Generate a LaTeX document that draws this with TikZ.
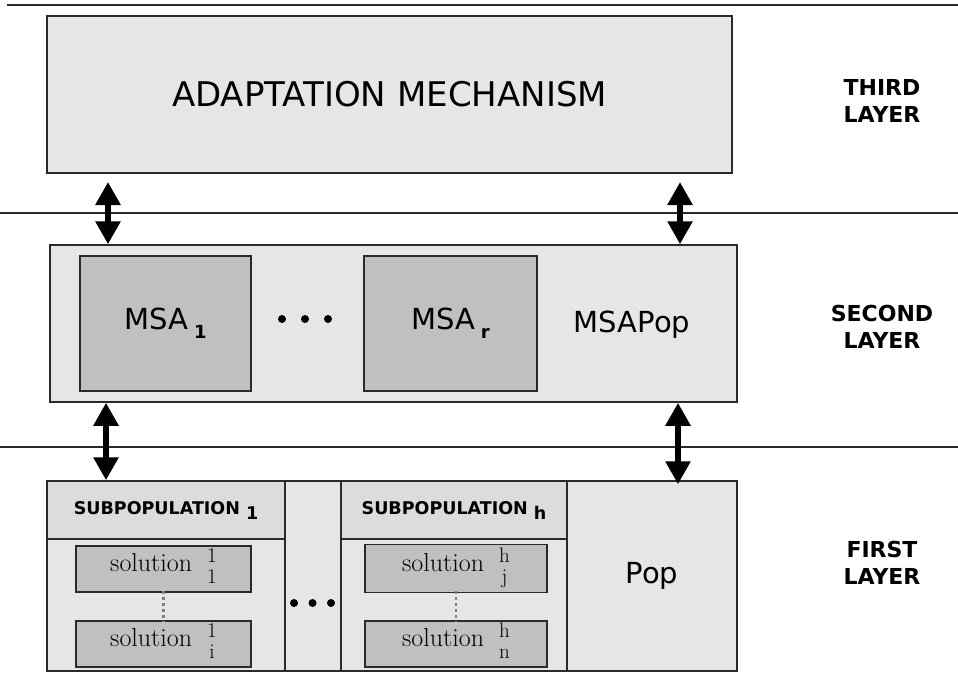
\documentclass[tikz,border=0pt]{standalone}
\usepackage{fontspec}
\newfontfamily\vsans{DejaVu Sans}
\usetikzlibrary{arrows.meta}

\definecolor{panel}{HTML}{E6E6E6}
\definecolor{inner}{HTML}{C0C0C0}
\definecolor{header}{HTML}{DCDCDC}
\definecolor{edge}{HTML}{2A2A2A}

\newcommand\fsz[1]{\fontsize{#1}{#1}\selectfont}
% stacked upper/lower index after "solution"
\newcommand\idx[2]{$\vcenter{\hbox{\fontsize{21}{21}\selectfont
  \begin{tabular}{@{}c@{}}#1\\#2\end{tabular}}}$}
\newcommand\sol[2]{{\fsz{26}solution}\hspace{15pt}\idx{#1}{#2}}
\newcommand\msa[1]{{\vsans\fsz{29}MSA\hspace{6pt}\raisebox{-9pt}{\bfseries\fsz{18}#1}}}
\newcommand\subpop[1]{{\vsans\bfseries\fsz{17.5}SUBPOPULATION\hspace{6pt}\raisebox{-5pt}{#1}}}

\tikzset{
  panelbox/.style={draw=edge, line width=1.5pt, fill=panel, inner sep=0pt},
  innerbox/.style={draw=edge, line width=1.5pt, fill=inner, inner sep=0pt},
  headbox/.style={draw=edge, line width=1.5pt, fill=header, inner sep=0pt},
  layerline/.style={draw=edge, line width=1.5pt},
  layertext/.style={font=\vsans\bfseries\fontsize{22}{27}\selectfont, align=center},
  biarrow/.style={line width=6pt, {Triangle[length=23pt,width=24pt]}-{Triangle[length=23pt,width=24pt]}},
  ellip/.style={circle, fill=black, inner sep=0pt, minimum size=8pt},
  solgap/.style={draw=gray, line width=2.5pt, dash pattern=on 3pt off 3pt},
}

\begin{document}
\begin{tikzpicture}[x=1pt, y=-1pt]
\useasboundingbox (0,0) rectangle (958,675);

% layer separators
\coordinate (l0a) at (7,5);   \coordinate (l0b) at (958,5);
\coordinate (l1a) at (0,213); \coordinate (l1b) at (958,213);
\coordinate (l2a) at (0,447); \coordinate (l2b) at (958,447);
\draw[layerline] (l0a) -- (l0b);
\draw[layerline] (l1a) -- (l1b);
\draw[layerline] (l2a) -- (l2b);

% third layer
\node[panelbox, minimum width=685pt, minimum height=157pt] (adapt) at (389.5,94.5)
  {\vsans\fsz{34}ADAPTATION MECHANISM};

% second layer
\node[panelbox, minimum width=687pt, minimum height=157pt] (second) at (393.5,323.5) {};
\node[innerbox, minimum width=171pt, minimum height=135pt] (msa1) at (165.5,323.5) {\msa{1}};
\node[innerbox, minimum width=173pt, minimum height=135pt] (msar) at (450.5,323.5) {\msa{r}};
\node (msapop) at (632,325) {\vsans\fsz{29}MSAPop};
\node[ellip] (md1) at (282,319) {};
\node[ellip] (md2) at (305,319) {};
\node[ellip] (md3) at (328,319) {};

% first layer
\node[panelbox, minimum width=690pt, minimum height=190pt] (first) at (392,576) {};
\node[panelbox, minimum width=238pt, minimum height=190pt] (col1) at (166,576) {};
\node[panelbox, minimum width=56pt, minimum height=190pt] (dcol) at (313,576) {};
\node[panelbox, minimum width=226pt, minimum height=190pt] (colh) at (454,576) {};
\node[panelbox, minimum width=170pt, minimum height=190pt] (pop) at (652,576) {\vsans\fsz{29}Pop};
\node[headbox, minimum width=238pt, minimum height=58pt] (head1) at (166,510) {\subpop{1}};
\node[headbox, minimum width=226pt, minimum height=58pt] (headh) at (454,510) {\subpop{h}};

\node[innerbox, minimum width=175pt, minimum height=46pt] (s11) at (163.5,569) {\sol{1}{1}};
\node[innerbox, minimum width=175pt, minimum height=46pt] (s1i) at (163.5,644) {\sol{1}{i}};
\node[innerbox, minimum width=182pt, minimum height=48pt] (shj) at (456,568.5) {\sol{h}{j}};
\node[innerbox, minimum width=182pt, minimum height=46pt] (shn) at (456,644) {\sol{h}{n}};
\draw[solgap] ([yshift=2pt]s11.south) -- ([yshift=-2pt]s1i.north);
\draw[solgap] ([yshift=2pt]shj.south) -- ([yshift=-2pt]shn.north);
\node[ellip] (pd1) at (294,603) {};
\node[ellip] (pd2) at (312.5,603) {};
\node[ellip] (pd3) at (331,603) {};

% layer names
\node[layertext] (lab3) at (882,101) {THIRD\\LAYER};
\node[layertext] (lab2) at (882,327) {SECOND\\LAYER};
\node[layertext] (lab1) at (882,563) {FIRST\\LAYER};

% links between layers
\coordinate (aTL) at (108,182);
\coordinate (aTR) at (680,182);
\coordinate (aBL) at (106,403);
\coordinate (aBR) at (678,403);
\draw[biarrow] (aTL) -- (aTL |- second.north);
\draw[biarrow] (aTR) -- (aTR |- second.north);
\draw[biarrow] (aBL |- second.south) -- (aBL |- first.north);
\draw[biarrow] (aBR |- second.south) -- ([yshift=-4pt]aBR |- pop.north);
\end{tikzpicture}
\end{document}
